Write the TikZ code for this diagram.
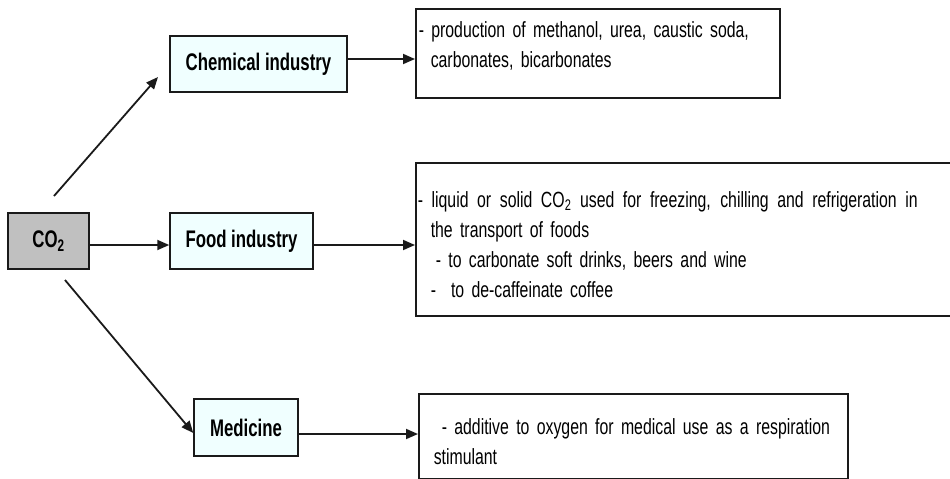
\documentclass[tikz,border=0pt]{standalone}
\usepackage{fontspec}
\usetikzlibrary{arrows.meta}
\newfontfamily\labelfont[FakeStretch=0.70]{Liberation Sans}
\newfontfamily\notefont[FakeStretch=0.72]{Liberation Sans}
\definecolor{chartink}{HTML}{1A1A1A}
\definecolor{sourcegray}{HTML}{C0C0C0}
\definecolor{sectorfill}{HTML}{F0FFFF}

\begin{document}
\begin{tikzpicture}[
  x=1pt,
  y=-1pt,
  box/.style={draw=chartink, line width=1.5pt, inner sep=0pt},
  sector/.style={box, fill=sectorfill, minimum height=56pt,
    font=\labelfont\bfseries\fontsize{24}{27}\selectfont},
  note/.style={box, fill=white, anchor=north west, align=left,
    inner xsep=15pt, font=\notefont\fontsize{22}{30}\selectfont},
  link/.style={chartink, line width=1.8pt, -{Triangle[length=12pt,width=10pt]}}
]
  \useasboundingbox (0,0) rectangle (950,479);

  \node[box, fill=sourcegray, minimum width=81pt, minimum height=56pt,
    font=\labelfont\bfseries\fontsize{24}{27}\selectfont] (co2) at (48.5,241) {CO\textsubscript{2}};

  \node[sector, minimum width=177pt] (chem) at (258.5,64) {Chemical industry};
  \node[sector, minimum width=143pt] (food) at (241.5,241) {Food industry};
  \node[sector, minimum width=104pt, minimum height=57pt] (med) at (246,427.5) {Medicine};

  \node[note, text width=334pt, minimum height=89pt] (chemnote) at (415,8)
    {\mbox{\hspace*{-12pt}- production of methanol, urea, caustic soda,}\\
     \mbox{carbonates, bicarbonates\rule[-18pt]{0pt}{1pt}}};
  \node[note, text width=506pt, minimum height=153pt] (foodnote) at (415,162)
    {\mbox{\rule{0pt}{26pt}\hspace*{-13pt}\spaceskip=5pt plus 20pt\hbox to 500pt{- liquid or solid CO\textsubscript{2} used for freezing, chilling and refrigeration in}}\\
     \mbox{the transport of foods}\\
     \mbox{\hspace*{5pt}- to carbonate soft drinks, beers and wine}\\
     \mbox{-\hspace*{15pt}to de-caffeinate coffee}};
  \node[note, text width=399pt, minimum height=85pt] (mednote) at (418,393)
    {\mbox{\rule{0pt}{26pt}\hspace*{8pt}- additive to oxygen for medical use as a respiration}\\
     \mbox{stimulant}};

  \coordinate (chemfrom) at (54,196);
  \coordinate (chemto) at (158,77);
  \coordinate (medfrom) at (65,280);

  \draw[link] (chemfrom) -- (chemto);
  \draw[link] ([yshift=-4pt]co2.east) -- ([yshift=-4pt]food.west);
  \draw[link] (medfrom) -- ([yshift=-5.5pt]med.west);

  \draw[link] ([yshift=5pt]chem.east) -- ([yshift=5pt]chem.east -| chemnote.west);
  \draw[link] ([yshift=-4pt]food.east) -- ([yshift=-4pt]food.east -| foodnote.west);
  \draw[link] ([yshift=-6.5pt]med.east) -- ([yshift=-6.5pt]med.east -| mednote.west);
\end{tikzpicture}
\end{document}
